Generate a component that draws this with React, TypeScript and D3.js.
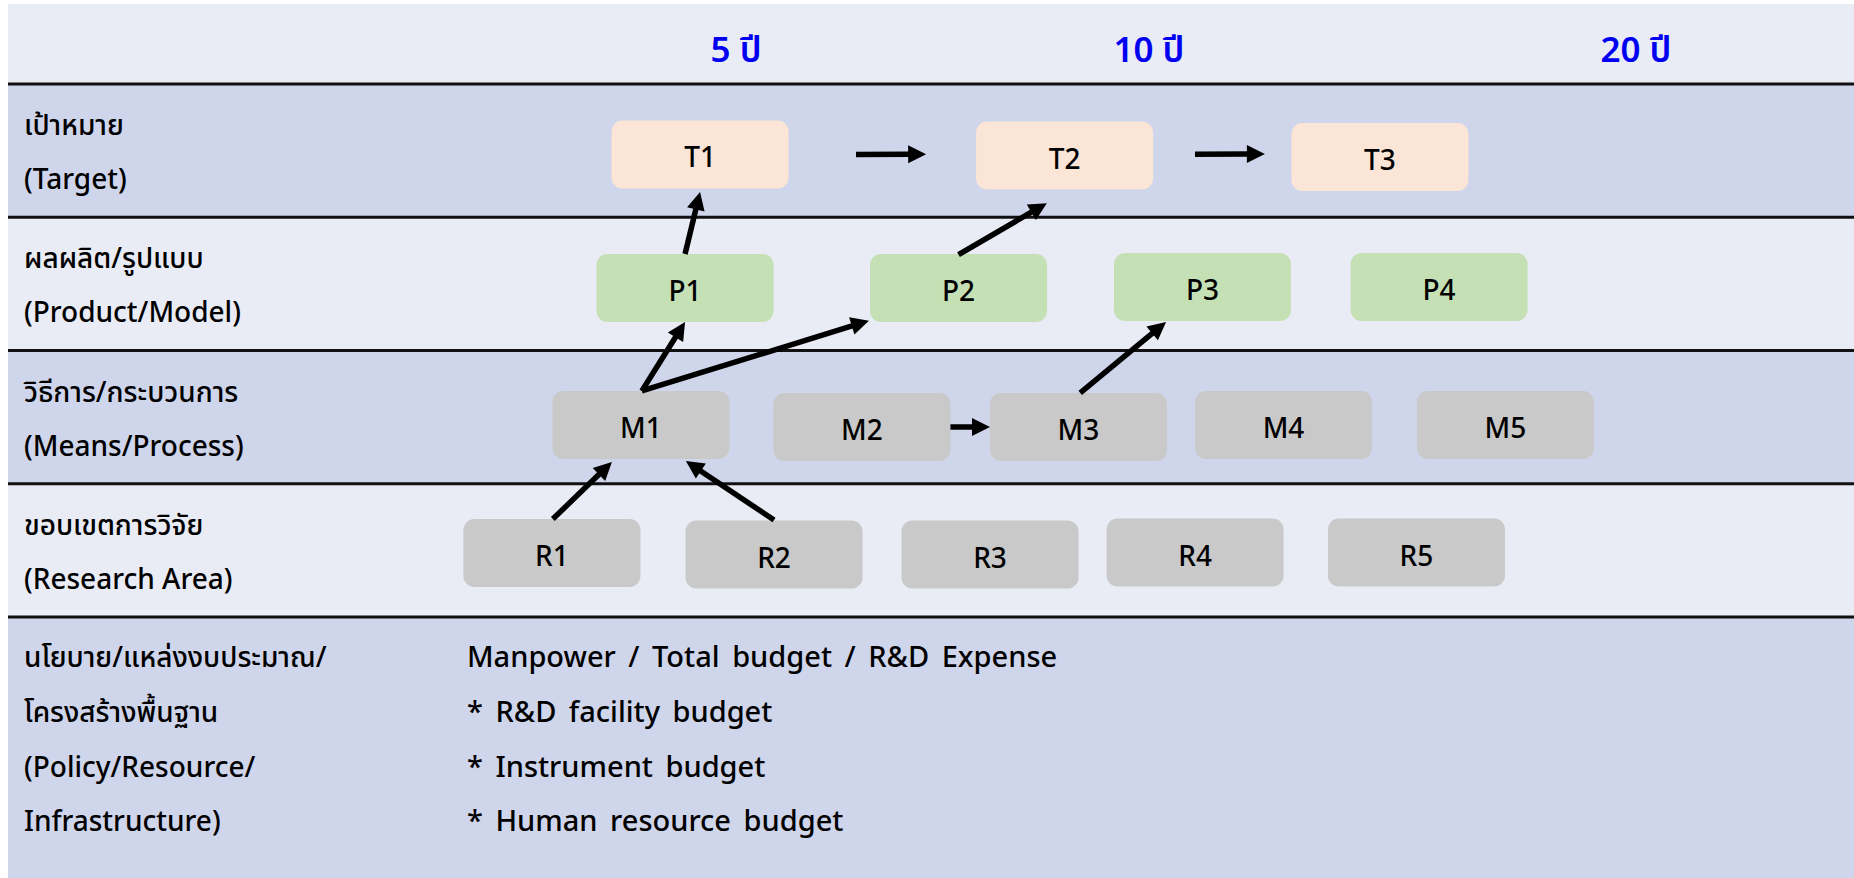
import React, { useEffect, useRef } from 'react';
import * as d3 from 'd3';

const W = 1854;
const H = 878;

// Row structure
const ROW_KEYS = ['target', 'product', 'means', 'research', 'policy'];
const ROW_LABELS_TH = ['เป้าหมาย', 'ผลผลิต/รูปแบบ', 'วิธีการ/กระบวนการ', 'ขอบเขตการวิจัย'];
const ROW_LABELS_EN = ['(Target)', '(Product/Model)', '(Means/Process)', '(Research Area)'];
const POLICY_LABELS = ['นโยบาย/แหล่งงบประมาณ/', 'โครงสร้างพื้นฐาน', '(Policy/Resource/', 'Infrastructure)'];
const POLICY_ITEMS = [
  'Manpower / Total budget / R&D Expense',
  '* R&D facility budget',
  '* Instrument budget',
  '* Human resource budget',
];
const POLICY_LINES = [4.375, 4.788, 5.201, 5.606];

// Time horizons (timeline units 0..1000)
const HORIZONS = ['5 ปี', '10 ปี', '20 ปี'];
const HORIZON_T = [397.0, 619.7, 882.4];

// Boxes
const BOX_IDS = ['T1', 'T2', 'T3', 'P1', 'P2', 'P3', 'P4', 'M1', 'M2', 'M3', 'M4', 'M5', 'R1', 'R2', 'R3', 'R4', 'R5'];
const BOX_ROW = ['target', 'target', 'target', 'product', 'product', 'product', 'product', 'means', 'means', 'means', 'means', 'means', 'research', 'research', 'research', 'research', 'research'];
const BOX_T = [377.6, 574.2, 744.3, 369.5, 517.0, 648.6, 776.2, 345.7, 464.9, 581.7, 692.3, 812.0, 297.7, 417.5, 534.0, 644.6, 764.0];
const BOX_LEVEL = [0.529, 0.537, 0.548, 1.531, 1.531, 1.523, 1.523, 2.559, 2.574, 2.574, 2.559, 2.559, 3.52, 3.531, 3.531, 3.516, 3.516];

// Arrows: from box, anchor in box units; to box, anchor in box units
const ARROW_FROM = ['T1', 'T2', 'P1', 'P2', 'M1', 'M1', 'M2', 'M3', 'R1', 'R2'];
const ARROW_FROM_ANCHOR: [number, number][] = [[0.881, 0], [0.737, -0.02], [0, -0.5], [0, -0.49], [0.005, -0.5], [0.005, -0.5], [0.5, 0], [0.01, -0.5], [0.005, -0.5], [0, -0.507]];
const ARROW_TO = ['T2', 'T3', 'T1', 'T2', 'P1', 'P2', 'M3', 'P3', 'M1', 'M1'];
const ARROW_TO_ANCHOR: [number, number][] = [[-0.782, -0.02], [-0.65, -0.044], [0, 0.55], [-0.1, 0.7], [0, 0.5], [-0.506, 0.48], [-0.5, 0], [-0.206, 0.515], [-0.164, 0.544], [0.254, 0.53]];

const ROW_COLORS = { light: '#E9EBF5', dark: '#CFD5EA' };
const BOX_COLORS: Record<string, string> = { target: '#FBE5D6', product: '#C5E0B4', means: '#C9C9C9', research: '#C9C9C9' };
const FONT = "'Noto Sans', 'Noto Sans Thai', 'Leelawadee UI', Tahoma, 'DejaVu Sans', sans-serif";

export default function App() {
  const ref = useRef<SVGSVGElement>(null);

  useEffect(() => {
    const svg = d3.select(ref.current);
    svg.selectAll('*').remove();

    const x = d3.scaleLinear().domain([0, 1000]).range([0, W]);
    const y = d3.scaleLinear().domain([0, 4]).range([84, 617]);

    const left = 8;
    const top = 4;
    const boxW = 177;
    const boxH = 68;

    // header band
    svg.append('rect').attr('x', left).attr('y', top).attr('width', W - left).attr('height', y(0) - top).attr('fill', ROW_COLORS.light);
    // row bands
    ROW_KEYS.forEach((k, i) => {
      const y0 = y(i);
      const y1 = i < ROW_KEYS.length - 1 ? y(i + 1) : H;
      svg.append('rect').attr('x', left).attr('y', y0).attr('width', W - left).attr('height', y1 - y0)
        .attr('fill', i % 2 === 0 ? ROW_COLORS.dark : ROW_COLORS.light);
    });
    // separators
    ROW_KEYS.forEach((k, i) => {
      svg.append('line').attr('x1', left).attr('x2', W).attr('y1', y(i)).attr('y2', y(i))
        .attr('stroke', '#111').attr('stroke-width', 3);
    });

    // horizons
    HORIZONS.forEach((h, i) => {
      svg.append('text').attr('x', x(HORIZON_T[i])).attr('y', y(-0.165)).attr('text-anchor', 'middle')
        .attr('font-family', FONT).attr('font-size', 35).attr('font-weight', 600).attr('fill', '#0000F0').text(h);
    });

    // row labels
    ROW_LABELS_TH.forEach((t, i) => {
      svg.append('text').attr('x', 24).attr('y', y(i + 0.383)).attr('font-family', FONT).attr('font-size', 28)
        .attr('font-weight', 500).attr('fill', '#000').text(t);
      svg.append('text').attr('x', 24).attr('y', y(i + 0.788)).attr('font-family', FONT).attr('font-size', 28)
        .attr('font-weight', 500).attr('fill', '#000').text(ROW_LABELS_EN[i]);
    });
    POLICY_LABELS.forEach((t, i) => {
      svg.append('text').attr('x', 24).attr('y', y(POLICY_LINES[i])).attr('font-family', FONT).attr('font-size', 28)
        .attr('font-weight', 500).attr('fill', '#000').text(t);
    });
    POLICY_ITEMS.forEach((t, i) => {
      svg.append('text').attr('x', 467).attr('y', y(POLICY_LINES[i])).attr('font-family', FONT).attr('font-size', 29)
        .attr('font-weight', 500).attr('word-spacing', 5).attr('fill', '#000').text(t);
    });

    // boxes
    const centers: Record<string, [number, number]> = {};
    BOX_IDS.forEach((id, i) => {
      const cx = x(BOX_T[i]);
      const cy = y(BOX_LEVEL[i]);
      centers[id] = [cx, cy];
      svg.append('rect').attr('x', cx - boxW / 2).attr('y', cy - boxH / 2).attr('width', boxW).attr('height', boxH)
        .attr('rx', 11).attr('ry', 11).attr('fill', BOX_COLORS[BOX_ROW[i]]);
      svg.append('text').attr('x', cx).attr('y', cy + 13).attr('text-anchor', 'middle').attr('font-family', FONT)
        .attr('font-size', 28).attr('font-weight', 500).attr('fill', '#000').text(id);
    });

    // arrows
    const headLen = 18;
    const headW = 18;
    ARROW_FROM.forEach((f, i) => {
      const [fx, fy] = centers[f];
      const [tx, ty] = centers[ARROW_TO[i]];
      const x1 = fx + ARROW_FROM_ANCHOR[i][0] * boxW;
      const y1 = fy + ARROW_FROM_ANCHOR[i][1] * boxH;
      const x2 = tx + ARROW_TO_ANCHOR[i][0] * boxW;
      const y2 = ty + ARROW_TO_ANCHOR[i][1] * boxH;
      const dx = x2 - x1;
      const dy = y2 - y1;
      const len = Math.hypot(dx, dy);
      const ux = dx / len;
      const uy = dy / len;
      const bx = x2 - ux * headLen;
      const by = y2 - uy * headLen;
      svg.append('line').attr('x1', x1).attr('y1', y1).attr('x2', bx + ux * 2).attr('y2', by + uy * 2)
        .attr('stroke', '#000').attr('stroke-width', 5.5);
      const px = -uy;
      const py = ux;
      const pts: [number, number][] = [
        [x2, y2],
        [bx + px * headW / 2, by + py * headW / 2],
        [bx - px * headW / 2, by - py * headW / 2],
      ];
      svg.append('path').attr('d', d3.line()(pts) + 'Z').attr('fill', '#000');
    });
  }, []);

  return <svg ref={ref} width={W} height={H} style={{ position: 'absolute', left: 0, top: 0, display: 'block' }} />;
}
